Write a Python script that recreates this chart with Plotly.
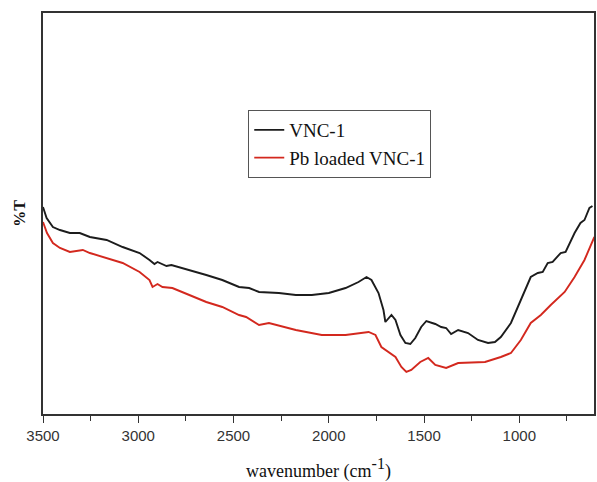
import plotly.graph_objects as go

# VNC-1 (black)
wn_vnc = [3500, 3481, 3448, 3411, 3359, 3307, 3254, 3166, 3082, 2993, 2941, 2915, 2899, 2852, 2826,
          2732, 2643, 2559, 2471, 2418, 2366, 2262, 2173, 2089, 2000, 1912, 1844, 1802, 1776, 1739,
          1713, 1703, 1687, 1671, 1650, 1624, 1598, 1572, 1546, 1515, 1488, 1441, 1410, 1384, 1358,
          1321, 1269, 1217, 1164, 1128, 1097, 1044, 992, 940, 903, 877, 851, 825, 783, 757, 710,
          679, 658, 632, 616]
t_vnc = [51.75, 49.0, 46.75, 46.0, 45.25, 45.25, 44.25, 43.5, 41.75, 40.25, 38.5, 37.5, 38.0, 37.0, 37.25,
         36.0, 34.75, 33.5, 31.75, 31.5, 30.5, 30.25, 29.75, 29.75, 30.25, 31.5, 33.0, 34.25, 33.5, 30.25,
         26.0, 23.0, 24.0, 24.75, 23.5, 19.75, 17.75, 17.5, 19.0, 21.75, 23.25, 22.5, 21.75, 21.5, 20.0,
         21.0, 20.25, 18.5, 17.75, 18.0, 19.25, 22.75, 28.5, 34.25, 35.25, 35.5, 37.75, 38.0, 40.25, 40.5, 45.25,
         47.75, 48.5, 51.5, 52.0]

# Pb loaded VNC-1 (red)
wn_pb = [3500, 3479, 3448, 3411, 3359, 3291, 3254, 3186, 3082, 2993, 2941, 2925, 2899, 2873, 2821,
         2732, 2643, 2559, 2471, 2434, 2366, 2314, 2173, 2037, 1912, 1791, 1755, 1724, 1687, 1650,
         1619, 1593, 1567, 1520, 1478, 1441, 1384, 1321, 1180, 1097, 1044, 992, 940, 887, 835,
         762, 710, 658, 606]
t_pb = [48.0, 45.25, 42.75, 41.5, 40.5, 41.0, 40.25, 39.25, 37.75, 35.5, 33.5, 31.75, 32.5, 31.75, 31.5,
        29.75, 28.0, 26.75, 24.75, 24.25, 22.25, 22.75, 21.0, 19.75, 19.75, 20.5, 19.75, 16.75, 15.5, 14.25,
        11.75, 10.5, 11.0, 13.0, 14.0, 12.25, 11.5, 12.75, 13.0, 14.25, 15.25, 18.5, 22.75, 24.75, 27.25,
        30.5, 34.25, 38.5, 44.25]

x_ticks = [3500, 3000, 2500, 2000, 1500, 1000]

fig = go.Figure()
fig.add_trace(go.Scatter(x=wn_vnc, y=t_vnc, mode="lines", name="VNC-1",
                         line=dict(color="#1c1c1c", width=1.9)))
fig.add_trace(go.Scatter(x=wn_pb, y=t_pb, mode="lines", name="Pb loaded VNC-1",
                         line=dict(color="#d3281e", width=1.9)))

fig.update_layout(
    width=597, height=482,
    margin=dict(l=43, r=1, t=13, b=68),
    paper_bgcolor="white", plot_bgcolor="white",
    showlegend=True,
    legend=dict(x=0.3725, y=0.758, xanchor="left", yanchor="top",
                bordercolor="#555555", borderwidth=1, bgcolor="white",
                font=dict(family="Liberation Serif", size=19, color="#111111"),
                tracegroupgap=0, itemwidth=30),
    xaxis=dict(range=[3500, 608], tickvals=x_ticks, ticktext=[str(v) for v in x_ticks],
               ticks="outside", ticklen=7, tickwidth=1.2, tickcolor="#333333",
               minor=dict(dtick=250, ticks="outside", ticklen=5, tickwidth=1.2, tickcolor="#333333"),
               showline=True, linecolor="#333333", linewidth=1.5, mirror=True,
               showgrid=False, zeroline=False,
               tickfont=dict(family="Liberation Sans", size=15, color="#333333"),
               title=dict(text="wavenumber (cm<sup><span style='font-size:16px'>-1</span></sup>)", standoff=23,
                          font=dict(family="Liberation Serif", size=18, color="#111111"))),
    yaxis=dict(range=[0, 100.25], showticklabels=False, ticks="",
               showline=True, linecolor="#333333", linewidth=1.5, mirror=True,
               showgrid=False, zeroline=False,
               title=dict(text="<b>%T</b>", standoff=12,
                          font=dict(family="Liberation Serif", size=16, color="#111111"))),
)

fig.write_html("out.html")
